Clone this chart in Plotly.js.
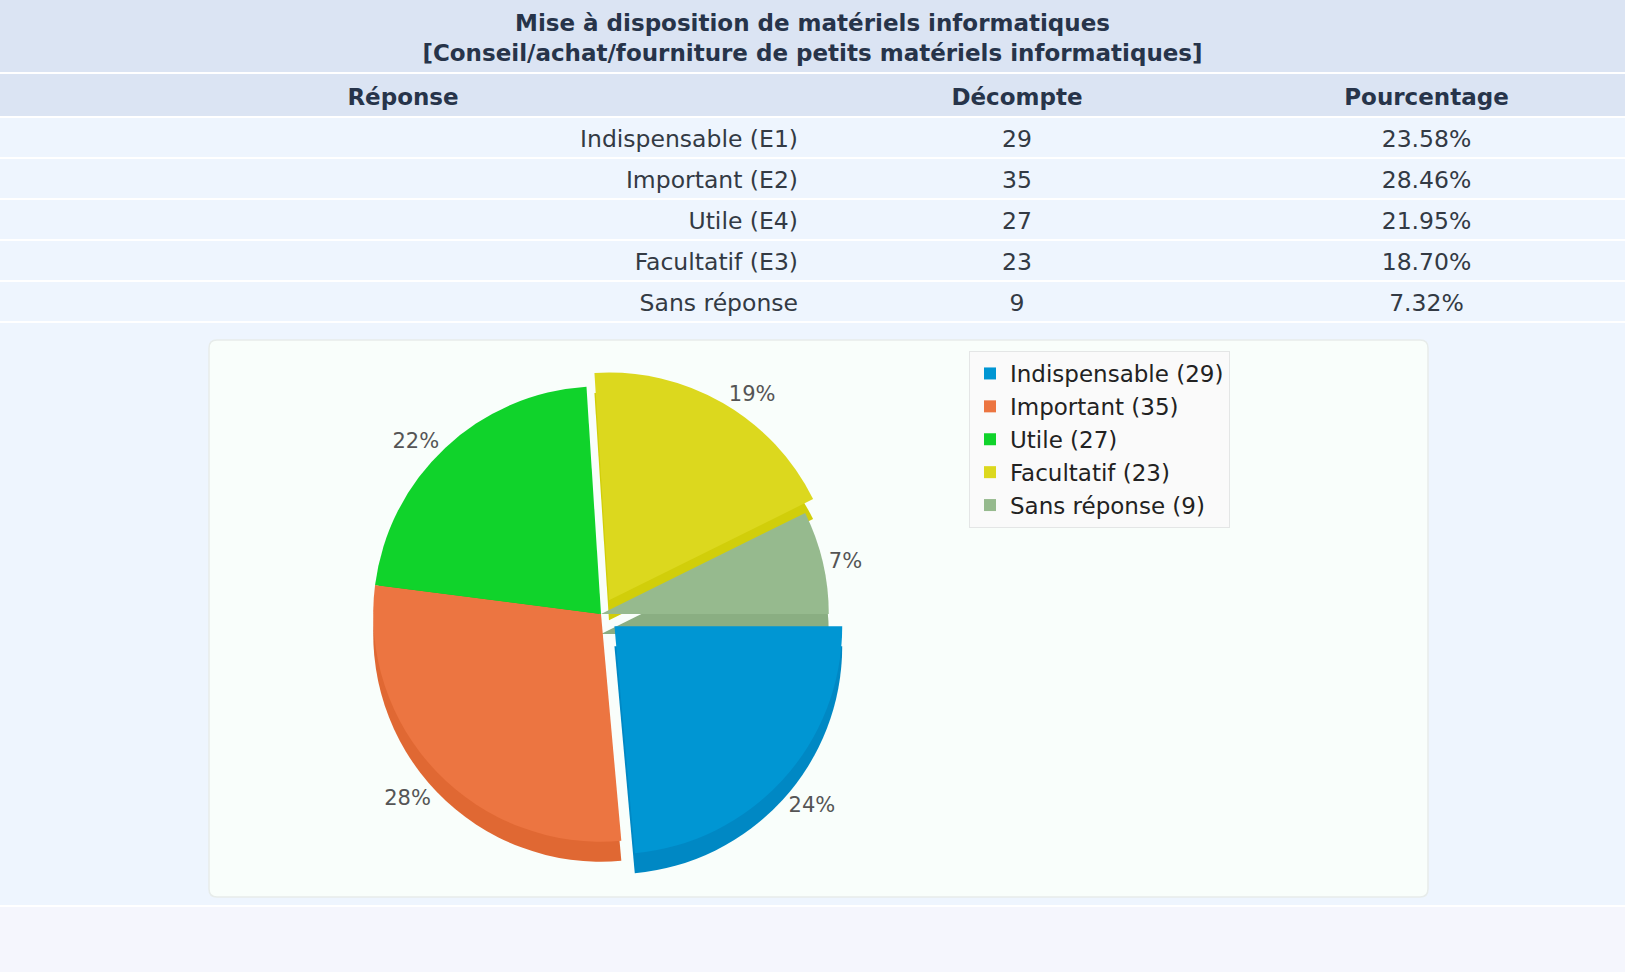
<!DOCTYPE html>
<html>
<head>
<meta charset="utf-8">
<script src="https://cdn.plot.ly/plotly-3.0.1.min.js"></script>
<style>
  html, body { margin: 0; padding: 0; background: #f5f6fd; }
  #chart { width: 1625px; height: 972px; }
</style>
</head>
<body>
<div id="chart"></div>
<script>
// ---- Data ----
const titleLines = ['Mise à disposition de matériels informatiques',
                    '[Conseil/achat/fourniture de petits matériels informatiques]'];
const headers = ['Réponse', 'Décompte', 'Pourcentage'];
const categories = ['Indispensable (E1)', 'Important (E2)', 'Utile (E4)', 'Facultatif (E3)', 'Sans réponse'];
const shortLabels = ['Indispensable', 'Important', 'Utile', 'Facultatif', 'Sans réponse'];
const counts = [29, 35, 27, 23, 9];
const percentages = [23.58, 28.46, 21.95, 18.70, 7.32];

// ---- Styles ----
const sliceColors = ['#0096d3', '#ec7541', '#10d32b', '#dcd81e', '#96ba8e'];
const sideColors  = ['#0088c4', '#e06833', '#02c51d', '#d1ce0a', '#8aae82'];
const pulls = [0.08, 0, 0, 0.07, 0];
const topLabelShown  = [false, false, true, true, true];

const W = 1625, H = 972;
const fx = x => x / W;
const fy = y => 1 - y / H;
const FONT = 'DejaVu Sans, Verdana, sans-serif';
const CLEAR = 'rgba(0,0,0,0)';

const legendLabels = shortLabels.map((l, i) => l + ' (' + counts[i] + ')');
const pctText = percentages.map(p => p.toFixed(2) + '%');

function roundedRect(x0, y0, x1, y1, r) {
  const rx = r / W, ry = r / H;
  const X0 = fx(x0), X1 = fx(x1), Y0 = fy(y0), Y1 = fy(y1);
  return 'M' + (X0 + rx) + ',' + Y0 +
         ' L' + (X1 - rx) + ',' + Y0 + ' Q' + X1 + ',' + Y0 + ' ' + X1 + ',' + (Y0 - ry) +
         ' L' + X1 + ',' + (Y1 + ry) + ' Q' + X1 + ',' + Y1 + ' ' + (X1 - rx) + ',' + Y1 +
         ' L' + (X0 + rx) + ',' + Y1 + ' Q' + X0 + ',' + Y1 + ' ' + X0 + ',' + (Y1 + ry) +
         ' L' + X0 + ',' + (Y0 - ry) + ' Q' + X0 + ',' + Y0 + ' ' + (X0 + rx) + ',' + Y0 + ' Z';
}
function hLine(y) {
  return { type: 'line', xref: 'paper', yref: 'paper', layer: 'above',
           x0: 0, x1: 1, y0: fy(y), y1: fy(y), line: { color: '#ffffff', width: 2 } };
}
function band(y0, y1, color) {
  return { type: 'rect', xref: 'paper', yref: 'paper', layer: 'below',
           x0: 0, x1: 1, y0: fy(y1), y1: fy(y0), fillcolor: color, line: { width: 0 } };
}

// pie geometry (domain box in pixels)
const pieCx = 601, pieCy = 614, pieBox = 492, depth = 20;

const tableTop = 76, headerH = 45, rowH = 41;
const table = {
  type: 'table',
  domain: { x: [0, 1], y: [fy(tableTop + headerH + 5 * rowH + 1), fy(tableTop)] },
  columnwidth: [806, 422, 397],
  header: {
    values: headers.map(h => '<b>' + h + '</b>'),
    align: 'center',
    height: headerH,
    fill: { color: CLEAR },
    line: { color: CLEAR, width: 0 },
    font: { family: FONT, size: 23, color: '#27344a' }
  },
  cells: {
    values: [categories, counts, pctText],
    align: ['right', 'center', 'center'],
    height: rowH,
    fill: { color: CLEAR },
    line: { color: CLEAR, width: 0 },
    font: { family: FONT, size: 23.5, color: '#333a44' }
  },
  hoverinfo: 'skip'
};

const pieCommon = {
  type: 'pie',
  labels: legendLabels,
  values: counts,
  sort: false,
  direction: 'clockwise',
  rotation: 90,
  pull: pulls,
  textposition: 'outside',
  outsidetextfont: { family: FONT, size: 21, color: '#555555' },
  hoverinfo: 'skip'
};

const pieSide = Object.assign({}, pieCommon, {
  domain: { x: [fx(pieCx - pieBox / 2), fx(pieCx + pieBox / 2)],
            y: [fy(pieCy + depth + pieBox / 2), fy(pieCy + depth - pieBox / 2)] },
  marker: { colors: sideColors, line: { width: 0 } },
  texttemplate: topLabelShown.map(s => s ? '' : '%{percent:.0%}'),
  showlegend: false
});

const pieTop = Object.assign({}, pieCommon, {
  domain: { x: [fx(pieCx - pieBox / 2), fx(pieCx + pieBox / 2)],
            y: [fy(pieCy + pieBox / 2), fy(pieCy - pieBox / 2)] },
  marker: { colors: sliceColors, line: { width: 0 } },
  texttemplate: topLabelShown.map(s => s ? '%{percent:.0%}' : ''),
  showlegend: true
});

const layout = {
  width: W, height: H,
  margin: { l: 0, r: 0, t: 0, b: 0 },
  paper_bgcolor: '#f5f6fd',
  title: {
    text: titleLines.join('<br>'),
    font: { family: FONT, size: 23, weight: 'bold', color: '#27344a' },
    x: 0.5, xanchor: 'center',
    y: fy(31), yanchor: 'middle'
  },
  showlegend: true,
  legend: {
    x: fx(969), y: fy(351), xanchor: 'left', yanchor: 'top',
    bgcolor: '#fafafa', bordercolor: '#e4e6e6', borderwidth: 1,
    font: { family: FONT, size: 23, color: '#222222' },
    traceorder: 'normal'
  },
  shapes: [
    band(0, 73, '#dbe4f3'),
    band(74, 117, '#dbe4f3'),
    band(117, 905, '#eef5fe'),
    { type: 'path', xref: 'paper', yref: 'paper', layer: 'below',
      path: roundedRect(209, 340, 1428, 897, 8),
      fillcolor: '#f9fefb', line: { color: '#e7ecea', width: 1.5 } },
    hLine(73), hLine(117), hLine(158), hLine(199), hLine(240), hLine(281), hLine(322), hLine(906)
  ]
};

Plotly.newPlot('chart', [table, pieSide, pieTop], layout, { staticPlot: true, displayModeBar: false });
</script>
</body>
</html>
